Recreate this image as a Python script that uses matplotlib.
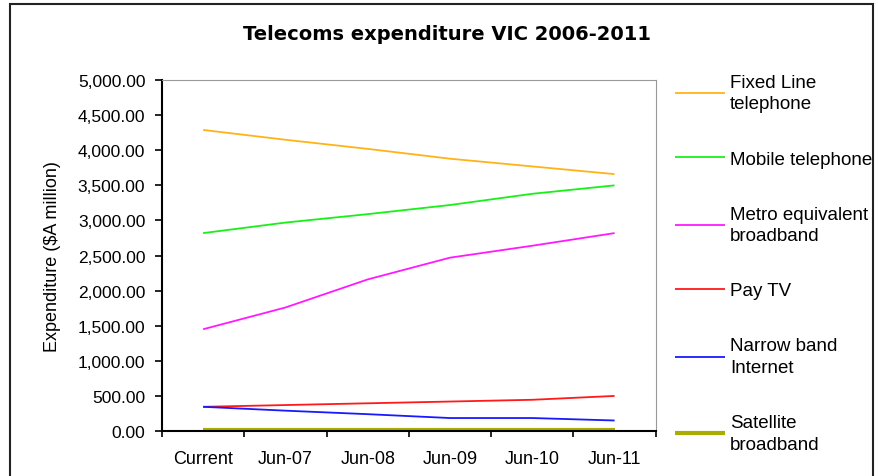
import numpy as np
import matplotlib.pyplot as plt
from matplotlib.patches import Rectangle

plt.rcParams['font.family'] = ['Liberation Sans', 'DejaVu Sans']

periods = ['Current', 'Jun-07', 'Jun-08', 'Jun-09', 'Jun-10', 'Jun-11']
fixed_line = [4290, 4150, 4020, 3880, 3770, 3660]
mobile = [2820, 2970, 3090, 3220, 3380, 3500]
metro_bb = [1450, 1760, 2160, 2470, 2640, 2820]
pay_tv = [345, 370, 395, 420, 445, 500]
narrow_band = [345, 290, 240, 185, 185, 150]
satellite = [10, 10, 10, 10, 10, 10]

series = [
    ('Fixed Line\ntelephone', fixed_line, '#ffb319', 1.3),
    ('Mobile telephone', mobile, '#19f019', 1.3),
    ('Metro equivalent\nbroadband', metro_bb, '#ff19ff', 1.3),
    ('Pay TV', pay_tv, '#ff1919', 1.3),
    ('Narrow band\nInternet', narrow_band, '#1919ff', 1.3),
    ('Satellite\nbroadband', satellite, '#a8ad00', 3.0),
]

fig = plt.figure(figsize=(8.79, 4.77), dpi=100)
fig.patches.append(Rectangle((0.011, -0.02), 0.982, 1.01, transform=fig.transFigure,
                             fill=False, edgecolor='#222222', linewidth=1.5))
ax = fig.add_axes([0.1843, 0.0943, 0.5617, 0.7357])

x = np.arange(len(periods))
for name, vals, col, lw in series:
    ax.plot(x, vals, color=col, linewidth=lw, label=name, solid_capstyle='butt')

ax.set_xlim(-0.5, 5.5)
ax.set_ylim(0, 5000)
ax.set_yticks(np.arange(0, 5001, 500))
ax.set_yticklabels([f'{v:,.2f}' for v in np.arange(0, 5001, 500)])
ax.set_xticks(x)
ax.set_xticklabels(periods)
ax.set_xticks(np.arange(-0.5, 6, 1), minor=True)
ax.tick_params(axis='x', which='major', length=0, pad=14, labelsize=13)
ax.tick_params(axis='x', which='minor', length=4, width=1.2, direction='out')
ax.tick_params(axis='y', length=5, width=1.2, direction='out', pad=7, labelsize=12.5)

for s in ['top', 'right']:
    ax.spines[s].set_color('#999999')
for s in ['left', 'bottom']:
    ax.spines[s].set_linewidth(1.5)

ax.set_ylabel('Expenditure ($A million)', fontsize=13, labelpad=12)
fig.text(0.509, 0.927, 'Telecoms expenditure VIC 2006-2011', ha='center', va='center',
         fontsize=14, fontweight='bold', family='DejaVu Sans')

leg = fig.legend(loc='upper left', bbox_to_anchor=(0.768, 0.843), frameon=False,
                 borderpad=0, borderaxespad=0,
                 handlelength=2.67, handletextpad=0.27, labelspacing=2.03, fontsize=13.5)
for t in leg.get_texts():
    t.set_linespacing(1.35)

fig.savefig('out.png', dpi=100)
